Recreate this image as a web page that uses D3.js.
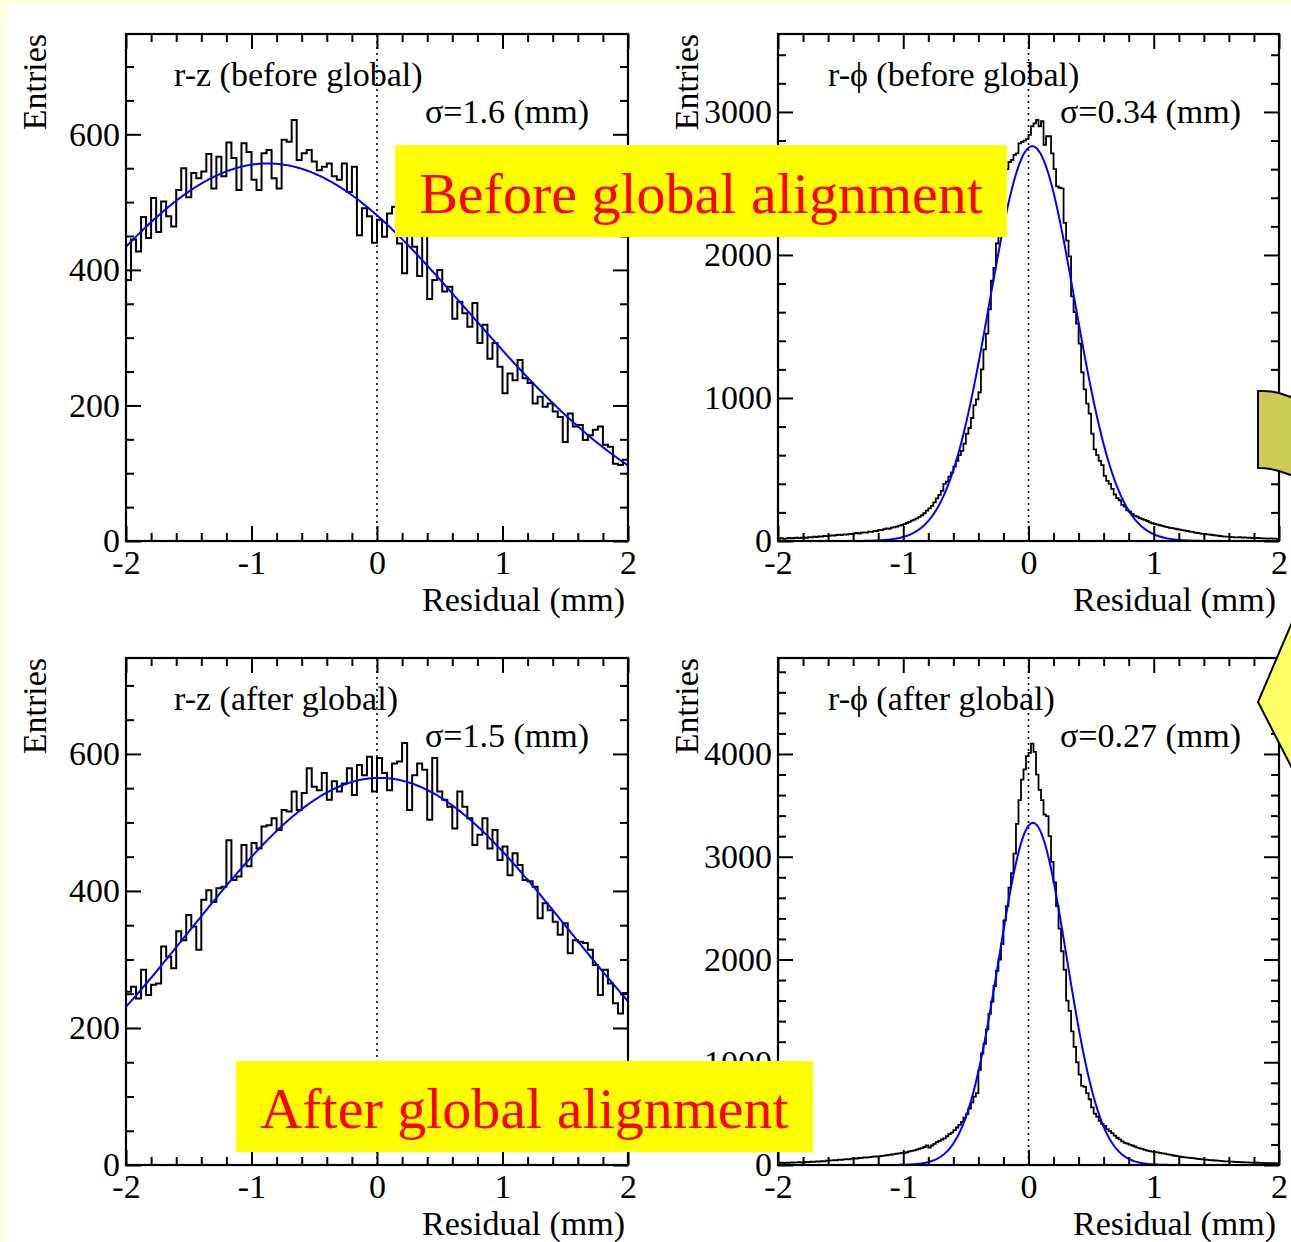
<!DOCTYPE html>
<html><head><meta charset="utf-8">
<script src="https://cdn.jsdelivr.net/npm/d3@7"></script>
<style>body{margin:0;background:#ffffe1} svg{display:block}</style>
</head><body><svg id="c" width="1291" height="1242"></svg>
<script>
// ---------------- data ----------------
const xTickValues=[-2,-1,0,1,2];
const rzYTicks=[0,200,400,600];
const rphiBeforeYTicks=[0,1000,2000,3000];
const rphiAfterYTicks=[0,1000,2000,3000,4000];

// r-z before global: 100 bins in [-2,2]
const rzBeforeCounts=[385,445,427,478,447,506,456,501,479,464,
 518,550,507,543,535,545,571,520,567,538,
 588,565,518,587,574,533,518,572,577,535,
 520,592,589,621,562,572,577,560,547,552,
 557,538,533,557,515,552,451,491,479,440,
 474,449,483,493,439,395,462,434,391,452,
 357,385,400,368,375,328,353,336,316,351,
 292,319,269,292,257,218,247,237,267,240,
 233,203,213,198,203,191,183,146,188,169,
 171,149,156,164,169,142,139,114,112,120];

// r-z after global: 100 bins in [-2,2]
const rzAfterCounts=[253,260,243,285,248,263,265,319,304,287,
 341,328,365,348,314,387,401,384,404,406,
 474,416,421,467,436,470,462,494,496,506,
 489,518,516,545,518,543,579,552,547,572,
 533,560,545,557,579,540,584,569,596,545,
 594,572,547,586,589,616,518,569,586,577,
 504,594,545,533,523,491,545,523,506,467,
 482,506,462,489,445,465,423,455,438,416,
 414,406,360,382,372,355,336,353,309,328,
 326,324,314,292,248,285,265,236,221,251];

// r-phi before global: 200 bins in [-2,2]
const rphiBeforeCounts=[17,20,15,19,22,18,21,24,20,23,
 26,22,27,25,30,28,33,31,35,34,
 36,39,37,42,44,41,47,45,50,48,
 53,56,52,58,61,59,66,64,71,69,
 78,76,83,88,85,93,96,101,107,112,
 118,126,134,142,150,158,168,180,194,212,
 228,245,270,298,322,350,400,415,450,480,
 520,560,600,630,680,750,790,860,950,990,
 1040,1200,1340,1450,1620,1820,1910,2080,2160,2320,
 2480,2600,2650,2665,2700,2710,2780,2790,2800,2810,
 2840,2900,2920,2945,2900,2935,2770,2830,2830,2710,
 2600,2480,2470,2465,2225,2100,1990,1710,1600,1520,
 1380,1180,1060,960,890,750,640,600,560,530,
 455,420,400,365,325,300,285,252,240,215,
 205,190,175,170,160,152,148,140,130,124,
 119,114,110,106,100,97,92,90,86,82,
 80,76,73,70,66,64,58,56,54,50,
 49,46,44,42,40,37,35,33,31,30,
 28,27,26,25,27,24,25,22,23,21,
 20,22,20,18,19,17,18,16,17,15];

// r-phi after global: 200 bins in [-2,2]
const rphiAfterCounts=[20,22,19,24,21,26,23,25,28,24,
 27,30,28,32,30,35,33,38,36,42,
 42,45,48,46,52,50,55,58,56,62,
 65,63,68,70,74,72,77,80,84,82,
 84,88,92,95,98,102,106,110,114,118,
 116,124,132,138,142,150,158,164,175,190,
 170,190,205,222,235,248,260,280,300,315,
 340,365,390,420,462,495,550,610,665,700,
 925,1085,1180,1320,1470,1590,1740,1890,2000,2150,
 2380,2520,2700,2840,3030,3320,3550,3750,3850,3980,
 4010,4100,4020,3800,3650,3550,3410,3395,3200,2950,
 2750,2520,2300,2080,1900,1600,1500,1300,1150,1000,
 880,770,760,700,640,560,500,470,430,400,
 380,350,330,310,285,265,250,230,215,208,
 198,190,180,170,162,156,148,140,136,130,
 126,122,118,114,110,104,100,95,90,86,
 82,78,75,72,70,67,64,60,58,55,
 52,50,48,46,44,42,40,38,36,35,
 33,32,30,29,28,27,26,25,24,23,
 22,22,21,20,19,19,18,18,17,17];

// Gaussian fit parameters (constant, mean, sigma, fit range)
const fitConstants=[557,565,2760,3330];
const fitMeans=[-0.87,0.02,0.03,0.035];
const fitSigmas=[1.6,1.51,0.34,0.27];
const fitRanges=[[-2,2],[-2,2],[-1.31,1.37],[-1.215,1.287]];

const panelTitles=["r-z (before global)","r-z (after global)","r-\u03d5 (before global)","r-\u03d5 (after global)"];
const sigmaLabels=["\u03c3=1.6 (mm)","\u03c3=1.5 (mm)","\u03c3=0.34 (mm)","\u03c3=0.27 (mm)"];
const yMaxima=[748,740,3545,4934];
const xAxisTitle="Residual (mm)";
const yAxisTitle="Entries";
const bannerTexts=["Before global alignment","After global alignment"];

// ---------------- drawing ----------------
const W=1291,H=1242;
const SERIF="'Liberation Serif','Times New Roman',Times,serif";
const svg=d3.select("#c");
svg.append("rect").attr("width",W).attr("height",H).attr("fill","#ffffe1");
svg.append("rect").attr("x",7).attr("y",5).attr("width",W-7).attr("height",H-5).attr("fill","#ffffff");

const layout=[
 {counts:rzBeforeCounts, yTicks:rzYTicks, minorStep:50, left:126,right:628,top:34,bottom:541, sw:2, tx:48, sx:299},
 {counts:rzAfterCounts, yTicks:rzYTicks, minorStep:50, left:126,right:628,top:658,bottom:1165, sw:2, tx:48, sx:299},
 {counts:rphiBeforeCounts, yTicks:rphiBeforeYTicks, minorStep:200, left:778,right:1279,top:34,bottom:541, sw:1.8, tx:50, sx:282},
 {counts:rphiAfterCounts, yTicks:rphiAfterYTicks, minorStep:200, left:778,right:1279,top:658,bottom:1165, sw:1.8, tx:50, sx:282}
];

layout.forEach((p,k)=>{
  const x=d3.scaleLinear().domain([-2,2]).range([p.left,p.right]);
  const y=d3.scaleLinear().domain([0,yMaxima[k]]).range([p.bottom,p.top]);
  const g=svg.append("g");
  const cid="clip"+k;
  svg.append("defs").append("clipPath").attr("id",cid).append("rect")
    .attr("x",p.left).attr("y",p.top).attr("width",p.right-p.left).attr("height",p.bottom-p.top);

  // zero line (dotted)
  g.append("line").attr("x1",x(0)).attr("x2",x(0)).attr("y1",p.bottom).attr("y2",p.top)
    .attr("stroke","#000").attr("stroke-width",1.6).attr("stroke-dasharray","2,4");

  // histogram step outline
  const n=p.counts.length, w=4/n;
  const pts=[];
  p.counts.forEach((v,i)=>{ const x0=-2+i*w; pts.push([x0,v]); pts.push([x0+w,v]); });
  g.append("path").datum(pts).attr("clip-path",`url(#${cid})`)
    .attr("fill","none").attr("stroke","#000").attr("stroke-width",p.sw).attr("stroke-linejoin","miter")
    .attr("d",d3.line().x(d=>x(d[0])).y(d=>y(d[1])));

  // gaussian fit
  const [a,b]=fitRanges[k];
  const fx=d3.range(0,401).map(j=>a+(b-a)*j/400);
  g.append("path").datum(fx).attr("clip-path",`url(#${cid})`)
    .attr("fill","none").attr("stroke","#0000ff").attr("stroke-width",2)
    .attr("d",d3.line().x(d=>x(d)).y(d=>y(fitConstants[k]*Math.exp(-0.5*Math.pow((d-fitMeans[k])/fitSigmas[k],2)))));

  // axes
  const style=sel=>{ sel.select(".domain").remove();
    sel.selectAll("line").attr("stroke","#000").attr("stroke-width",2);
    sel.attr("font-family",SERIF).attr("font-size",34);
    sel.selectAll("text").attr("fill","#000"); };
  const xMinor=d3.range(-2,2.0001,0.2).filter(v=>Math.abs(v-Math.round(v))>1e-6);
  const yMinor=d3.range(0,yMaxima[k],p.minorStep).filter(v=>!p.yTicks.includes(v));
  const fmt=d=>String(d);
  g.append("g").attr("transform",`translate(0,${p.bottom})`)
    .call(d3.axisBottom(x).tickValues(xTickValues).tickSize(-15).tickPadding(9).tickFormat(fmt)).call(style);
  g.append("g").attr("transform",`translate(0,${p.bottom})`)
    .call(d3.axisBottom(x).tickValues(xMinor).tickSize(-8).tickFormat("")).call(style);
  g.append("g").attr("transform",`translate(0,${p.top})`)
    .call(d3.axisTop(x).tickValues(xTickValues).tickSize(-15).tickFormat("")).call(style);
  g.append("g").attr("transform",`translate(0,${p.top})`)
    .call(d3.axisTop(x).tickValues(xMinor).tickSize(-8).tickFormat("")).call(style);
  g.append("g").attr("transform",`translate(${p.left},0)`)
    .call(d3.axisLeft(y).tickValues(p.yTicks).tickSize(-15).tickPadding(6).tickFormat(fmt)).call(style);
  g.append("g").attr("transform",`translate(${p.left},0)`)
    .call(d3.axisLeft(y).tickValues(yMinor).tickSize(-8).tickFormat("")).call(style);
  g.append("g").attr("transform",`translate(${p.right},0)`)
    .call(d3.axisRight(y).tickValues(p.yTicks).tickSize(-15).tickFormat("")).call(style);
  g.append("g").attr("transform",`translate(${p.right},0)`)
    .call(d3.axisRight(y).tickValues(yMinor).tickSize(-8).tickFormat("")).call(style);

  // frame
  g.append("rect").attr("x",p.left).attr("y",p.top).attr("width",p.right-p.left).attr("height",p.bottom-p.top)
    .attr("fill","none").attr("stroke","#000").attr("stroke-width",2.2);

  // texts
  const t=(txt,xx,yy,anchor)=>g.append("text").text(txt).attr("x",xx).attr("y",yy)
    .attr("font-family",SERIF).attr("font-size",34).attr("fill","#000").attr("text-anchor",anchor||"start");
  t(xAxisTitle,p.right-3,p.bottom+70,"end");
  g.append("text").text(yAxisTitle).attr("transform",`translate(${p.left-80},${p.top}) rotate(-90)`)
    .attr("font-family",SERIF).attr("font-size",34).attr("fill","#000").attr("text-anchor","end");
  t(panelTitles[k],p.left+p.tx,p.top+52);
  t(sigmaLabels[k],p.left+p.sx,p.top+89);
});

// banners
const banners=[{x:395,y:145,w:612,h:92},{x:236,y:1061,w:577,h:91}];
banners.forEach((b,i)=>{
  svg.append("rect").attr("x",b.x).attr("y",b.y).attr("width",b.w).attr("height",b.h).attr("fill","#ffff00");
  svg.append("text").text(bannerTexts[i]).attr("x",b.x+b.w/2).attr("y",b.y+b.h-24)
    .attr("text-anchor","middle").attr("font-family",SERIF).attr("font-size",58).attr("fill","#ff0000");
});

// arrow fragments at the right edge
svg.append("path").attr("d","M1258,391 Q1276,390 1293,398 L1293,476 Q1276,468 1258,468 Z")
  .attr("fill","#cccc55").attr("stroke","#000").attr("stroke-width",2);
svg.append("path").attr("d","M1293,620 L1258,702 L1293,770 Z")
  .attr("fill","#ffff66").attr("stroke","#000").attr("stroke-width",2);
</script>
</body></html>
